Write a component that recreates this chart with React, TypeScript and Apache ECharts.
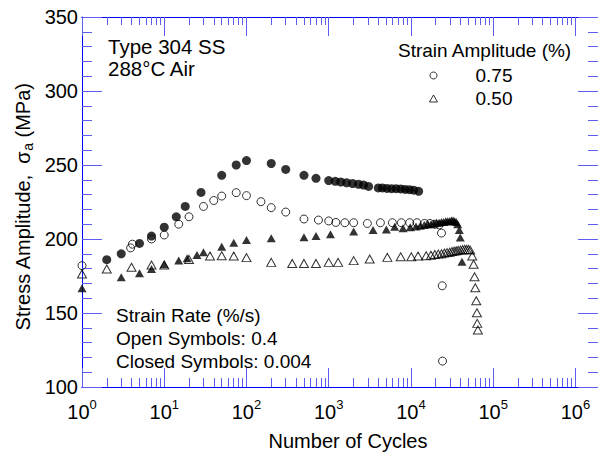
import { useEffect, useRef } from 'react';
import * as echarts from 'echarts';

// ---------- data ----------
// 0.75 % strain amplitude, open symbols (strain rate 0.4 %/s)
const cyc075Open = [1, 3.9, 4.1, 7, 10, 15, 20, 30, 40, 50, 75, 100, 150, 200, 300, 500, 750, 1000, 1220, 1570, 2010, 2950, 4250, 5940, 7640, 9640, 11800, 14650, 17000, 19500, 22000, 23500, 24000, 24200];
const sig075Open = [182, 194, 196.5, 200, 202.7, 210, 215, 222, 226, 229, 231.3, 229.3, 225.2, 221.2, 218.2, 213.5, 212.8, 212.2, 211.2, 211, 211, 210.5, 211, 211, 211, 211, 211, 210.5, 210.5, 210, 209.5, 204, 168.4, 117.5];

// 0.75 % strain amplitude, closed symbols (strain rate 0.004 %/s)
const cyc075Closed = [2, 3, 5, 7, 10, 14, 18, 28, 50, 75, 100, 200, 300, 500, 700, 1000, 1200, 1400, 1650, 1950, 2300, 2650, 3050, 4000, 4500, 5100, 5800, 6600, 7500, 8500, 9600, 10800, 12400];
const sig075Closed = [186, 190, 197, 202, 208, 215, 222, 231.5, 243, 250, 253, 251, 247, 243, 241, 239.5, 239, 238.5, 238, 237.5, 237, 236.5, 235.5, 234.5, 234.5, 234.2, 234, 234, 233.8, 233.5, 233.3, 233, 232.2];

// 0.50 % strain amplitude, open symbols
const cyc050Open = [1, 2, 4, 7, 10, 20, 36, 50, 70, 100, 200, 360, 500, 700, 1000, 1300, 2010, 3150, 5160, 7500, 10100, 12200, 15300, 17500, 19500, 21500, 23500, 25500, 27500, 29500, 31500, 33500, 35500, 37500, 40000, 42500, 45000, 47500, 50000, 52500, 55600, 57700, 59300, 60500, 62200, 63400, 64000, 65100];
const sig050Open = [176.4, 179.7, 180.9, 182.4, 182.4, 186.2, 188.5, 188.7, 188.5, 187.4, 184.2, 183.5, 183.5, 183.5, 184.2, 184.2, 185.4, 186.5, 187.6, 188, 188, 188.5, 188.7, 189, 189.5, 189.8, 190, 190.5, 190.8, 191, 191.5, 191.8, 192, 192.3, 192.5, 192.8, 193, 193, 193, 192.5, 188.5, 182.9, 174.5, 167.1, 158.3, 150.2, 143, 138.5];

// 0.50 % strain amplitude, closed symbols
const cyc050Closed = [1, 3, 5, 7, 10, 15, 19, 25, 30, 50, 70, 100, 200, 500, 700, 1050, 2010, 3460, 5020, 6340, 8000, 9800, 11500, 13000, 14500, 16000, 17500, 19000, 20500, 22000, 23500, 25000, 26500, 28000, 29500, 31000, 32500, 34000, 35500, 37000, 38700, 39800, 41700];
const sig050Closed = [166.7, 174.1, 176.8, 179.7, 182.9, 185.4, 187, 189.2, 191, 194.8, 197.5, 199.3, 200.5, 201.1, 202, 203.2, 205, 206, 206.5, 208.3, 207.2, 208, 208.5, 209, 209.5, 210, 210, 210.5, 211, 211, 211.5, 211.5, 212, 212, 212, 212.5, 212.5, 212, 211.5, 210, 206, 201, 184.7];

// axis ticks
const majorCycles = [1, 10, 100, 1000, 10000, 100000, 1000000];
const minorMultipliers = [2, 3, 4, 5, 6, 7, 8, 9];
const minorCycles = majorCycles.flatMap((d) => minorMultipliers.map((m) => m * d));
const X_MIN = 1;
const X_MAX = 1.88e6;
const Y_MIN = 100;
const Y_MAX = 350;
const Y_STEP = 50;

const FONT = "'Liberation Sans', Arial, Helvetica, sans-serif";
const AXIS = '#0000ff';
const TICK = '#5c5cf0';

const pairs = (xs: number[], ys: number[]) => xs.map((x, i) => [x, ys[i]]);

function xAxisCfg(position: 'top' | 'bottom', values: number[], len: number, withLabels: boolean) {
  return {
    type: 'log',
    logBase: 10,
    min: X_MIN,
    max: X_MAX,
    position,
    axisLine: { show: true, onZero: false, lineStyle: { color: AXIS, width: 1 } },
    axisTick: { show: true, inside: true, length: len, customValues: values, lineStyle: { color: TICK, width: 1 } },
    axisLabel: withLabels
      ? {
          show: true,
          customValues: majorCycles,
          margin: 11,
          color: '#000',
          fontFamily: FONT,
          fontSize: 20,
          formatter: (v: number) => `{b|10}{s|${Math.round(Math.log10(v))}}`,
          rich: {
            b: { fontSize: 20, lineHeight: 28, fontFamily: FONT, color: '#000' },
            s: { fontSize: 13, lineHeight: 16, verticalAlign: 'top', fontFamily: FONT, color: '#000' },
          },
        }
      : { show: false },
    splitLine: { show: false },
    minorTick: { show: false },
    minorSplitLine: { show: false },
  };
}

function yAxisCfg(position: 'left' | 'right', withLabels: boolean) {
  return {
    type: 'value',
    min: Y_MIN,
    max: Y_MAX,
    interval: Y_STEP,
    position,
    axisLine: { show: true, onZero: false, lineStyle: { color: AXIS, width: 1 } },
    axisTick: { show: true, inside: true, length: 20, lineStyle: { color: TICK, width: 1 } },
    minorTick: { show: true, splitNumber: 5, length: 10, lineStyle: { color: TICK, width: 1 } },
    axisLabel: withLabels
      ? { show: true, margin: 4, color: '#000', fontFamily: FONT, fontSize: 20 }
      : { show: false },
    splitLine: { show: false },
    minorSplitLine: { show: false },
  };
}

const openStyle = { color: 'rgba(0,0,0,0)', borderColor: '#000', borderWidth: 1 };
const closedStyle = { color: '#000', borderColor: '#000', borderWidth: 0 };

function text(x: number, y: number, t: string, extra: any = {}) {
  return {
    type: 'text',
    x,
    y,
    silent: true,
    ...extra,
    style: {
      text: t,
      fill: '#000',
      fontFamily: FONT,
      fontSize: 19,
      align: 'left',
      verticalAlign: 'middle',
      ...(extra.style || {}),
    },
  };
}

const option: any = {
  animation: false,
  backgroundColor: '#fff',
  grid: { left: 82, top: 17, right: -1, bottom: 70, containLabel: false },
  xAxis: [
    xAxisCfg('bottom', majorCycles, 19, true),
    xAxisCfg('bottom', minorCycles, 9, false),
    xAxisCfg('top', majorCycles, 19, false),
    xAxisCfg('top', minorCycles, 8, false),
  ],
  yAxis: [yAxisCfg('left', true), yAxisCfg('right', false)],
  legend: {
    data: [
      { name: '0.75', icon: 'circle' },
      { name: '0.50', icon: 'triangle' },
    ],
    orient: 'vertical',
    left: 424,
    top: 59,
    itemWidth: 8,
    itemHeight: 7,
    itemGap: 0,
    symbolKeepAspect: true,
    selectedMode: false,
    textStyle: { fontFamily: FONT, fontSize: 19, color: '#000', lineHeight: 23, padding: [0, 0, 0, 33] },
    itemStyle: { color: 'rgba(0,0,0,0)', borderColor: '#000', borderWidth: 1 },
  },
  series: [
    {
      name: '0.75 (0.004 %/s)',
      type: 'scatter',
      symbol: 'circle',
      symbolSize: 9,
      itemStyle: closedStyle,
      data: pairs(cyc075Closed, sig075Closed),
    },
    {
      name: '0.50 (0.004 %/s)',
      type: 'scatter',
      symbol: 'triangle',
      symbolSize: [9, 8],
      itemStyle: closedStyle,
      data: pairs(cyc050Closed, sig050Closed),
    },
    {
      name: '0.75',
      type: 'scatter',
      symbol: 'circle',
      symbolSize: 8,
      itemStyle: openStyle,
      data: pairs(cyc075Open, sig075Open),
    },
    {
      name: '0.50',
      type: 'scatter',
      symbol: 'triangle',
      symbolSize: [9, 8],
      itemStyle: openStyle,
      data: pairs(cyc050Open, sig050Open),
    },
  ],
  graphic: [
    text(108, 46, 'Type 304 SS', { style: { fontSize: 20.5 } }),
    text(108, 68, '288°C Air', { style: { fontSize: 20.5 } }),
    text(398, 50, 'Strain Amplitude (%)'),
    text(116, 315, 'Strain Rate (%/s)'),
    text(116, 338, 'Open Symbols: 0.4'),
    text(116, 361, 'Closed Symbols: 0.004'),
    text(348, 441, 'Number of Cycles', { style: { align: 'center', fontSize: 20 } }),
    {
      type: 'text',
      x: 23,
      y: 207,
      rotation: Math.PI / 2,
      silent: true,
      style: {
        text: 'Stress Amplitude,  σ{sub|a} (MPa)',
        fill: '#000',
        fontFamily: FONT,
        fontSize: 20,
        lineHeight: 24,
        align: 'center',
        verticalAlign: 'middle',
        rich: {
          sub: { fontSize: 14, lineHeight: 14, verticalAlign: 'bottom', fontFamily: FONT, fill: '#000' },
        },
      },
    },
  ],
};

export default function App() {
  const ref = useRef<HTMLDivElement>(null);
  useEffect(() => {
    if (!ref.current) return;
    const chart = echarts.init(ref.current, null, { renderer: 'svg' });
    chart.setOption(option);
    return () => chart.dispose();
  }, []);
  return (
    <div
      ref={ref}
      style={{ position: 'fixed', left: 0, top: 0, width: 598, height: 457, background: '#fff' }}
    />
  );
}
